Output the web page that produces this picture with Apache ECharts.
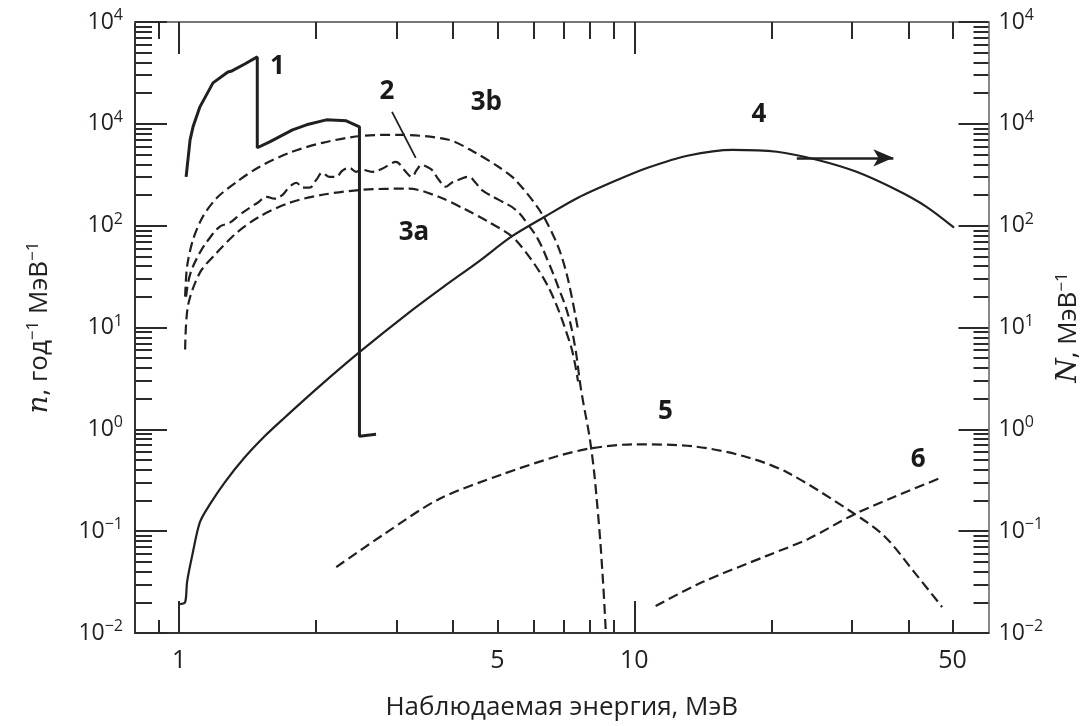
<!DOCTYPE html>
<html><head><meta charset="utf-8">
<script src="https://cdn.jsdelivr.net/npm/echarts@6/dist/echarts.min.js"></script>
<style>html,body{margin:0;padding:0;background:#fff}#c{width:1091px;height:726px}</style>
</head><body><div id="c"></div>
<script>
// ---- axis ranges and ticks ----
const X_MIN = 0.8, X_MAX = 60, Y_MIN = 0.01, Y_MAX = 10000;
const energyTicksMajor = [1, 10];
const energyTicksMinor = [0.9, 2, 3, 4, 5, 6, 7, 8, 9, 20, 30, 40, 50];
const energyTickLabels = [1, 5, 10, 50];
const yTickValues = [0.01, 0.1, 1, 10, 100, 1000, 10000];
const yTickExponents = ['−2', '−1', '0', '1', '2', '4', '4'];

// ---- curves: [energy MeV, value] ----
const curve1 = [[1.036,302],[1.057,697],[1.073,935],[1.111,1468],[1.187,2523],[1.280,3234],[1.306,3308],[1.394,3873],[1.485,4539],[1.485,582],[1.581,666],[1.775,873],[1.905,978],[2.106,1094],[2.329,1070],[2.49,935],[2.49,0.854],[2.708,0.893]];
const curve2 = [[1.036,20.1],[1.057,33.1],[1.111,54.4],[1.169,76.3],[1.229,97.8],[1.293,107],[1.359,128],[1.429,150],[1.488,168],[1.557,192],[1.621,184],[1.688,201],[1.748,241],[1.811,264],[1.866,236],[1.933,236],[2.002,282],[2.064,331],[2.138,302],[2.214,302],[2.283,346],[2.364,370],[2.449,338],[2.524,354],[2.655,338],[2.792,362],[2.892,396],[2.995,424],[3.119,354],[3.246,302],[3.329,354],[3.413,396],[3.500,379],[3.590,354],[3.719,282],[3.852,241],[3.971,264],[4.113,282],[4.325,302],[4.481,264],[4.618,225],[5.029,180],[5.479,144],[5.848,102],[6.150,72.9],[6.468,44.4],[6.802,25.2],[7.152,13.4],[7.409,6.51],[7.637,2.47],[8.030,0.681],[8.318,0.1536],[8.530,0.0338],[8.660,0.0100]];
const curve3a = [[1.031,6.09],[1.046,16.4],[1.111,34.6],[1.211,54.4],[1.339,85.4],[1.503,123],[1.748,168],[2.064,201],[2.524,225],[3.198,231],[3.719,192],[4.260,144],[4.783,109],[5.479,72.9],[6.468,25.2],[7.261,6.51],[7.522,2.96]];
const curve3b = [[1.031,20.1],[1.041,39.6],[1.073,72.9],[1.128,123],[1.211,188],[1.339,270],[1.503,379],[1.748,520],[2.064,651],[2.524,763],[3.041,780],[3.911,697],[4.436,532],[5.029,379],[5.479,282],[6.244,134],[6.802,62.3],[7.152,29.6],[7.522,9.56]];
const curve4 = [[1.005,0.0192],[1.031,0.0201],[1.041,0.0316],[1.068,0.0569],[1.111,0.1225],[1.169,0.184],[1.260,0.302],[1.394,0.531],[1.541,0.854],[1.688,1.25],[2.033,2.64],[2.486,5.69],[3.198,14.0],[3.814,25.2],[4.549,44.4],[5.370,78.0],[6.371,123],[7.522,188],[9.199,282],[10.70,370],[13.08,486],[16.47,556],[20.58,532],[25.16,444],[30.77,338],[37.64,225],[43.77,154],[50.40,95.6]];
const curve5 = [[2.214,0.0444],[2.820,0.0935],[3.719,0.206],[5.131,0.362],[6.767,0.544],[8.030,0.651],[9.97,0.713],[13.48,0.681],[17.43,0.544],[21.64,0.379],[29.85,0.157],[35.44,0.0893],[41.21,0.0396],[47.45,0.0180]];
const curve6 = [[11.14,0.0184],[14.11,0.0316],[19.47,0.0569],[24.05,0.0835],[30.46,0.1468],[37.08,0.2154],[47.45,0.338]];

// ---- annotations ----
const annotations = [
  {text:'1', E:1.645, n:3622}, {text:'2', E:2.862, n:2061}, {text:'3b', E:4.732, n:1607},
  {text:'4', E:18.79, n:1225}, {text:'3a', E:3.28, n:85.3}, {text:'5', E:11.71, n:1.5}, {text:'6', E:42.05, n:0.508}
];
const pointer2 = [[2.936,1311],[3.31,464]];
const arrow4 = [[22.75,464],[37.08,464]];

// ---- build ----
const L = Math.log10;
const toLog = arr => arr.map(p => [L(p[0]), L(p[1])]);
const ink = '#231f20';
const font = 'Open Sans';
const minorY = [];
for (let d = -2; d < 4; d++) for (let k = 2; k <= 9; k++) minorY.push(L(k * Math.pow(10, d)));
const yRich = {
  b: {fontSize: 23, fontFamily: font, color: ink},
  e: {fontSize: 16, fontFamily: font, color: ink, padding: [0, 0, 13, 0]}
};
function yLab(v) {
  const i = yTickValues.findIndex(t => Math.abs(L(t) - v) < 1e-6);
  return '{b|10}{e|' + yTickExponents[i] + '}';
}
const xBase = {type: 'value', min: L(X_MIN), max: L(X_MAX), splitLine: {show: false}, axisLabel: {show: false}};
const yBase = {type: 'value', min: L(Y_MIN), max: L(Y_MAX), splitLine: {show: false}, axisLabel: {show: false}};
const tickStyle = {color: '#2a2a2a', width: 2};
const nameRich = {
  i: {fontSize: 28, fontFamily: 'DejaVu Serif', fontStyle: 'italic', color: ink},
  s: {fontSize: 17, fontFamily: font, color: ink, padding: [0, 0, 13, 0]}
};

const xAxis = [
  Object.assign({}, xBase, {
    position: 'bottom',
    axisLine: {show: true, onZero: false, lineStyle: {color: '#333', width: 2}},
    axisTick: {show: true, inside: true, length: 32, lineStyle: tickStyle, customValues: energyTicksMajor.map(L)},
    axisLabel: {show: true, customValues: energyTickLabels.map(L), formatter: v => String(Math.round(Math.pow(10, v))),
      fontSize: 25, color: ink, fontFamily: font, margin: 15},
    name: 'Наблюдаемая энергия, МэВ', nameLocation: 'middle', nameGap: 62,
    nameTextStyle: {fontSize: 26, color: ink, fontFamily: font}
  }),
  Object.assign({}, xBase, {position: 'bottom', axisLine: {show: false, onZero: false},
    axisTick: {show: true, inside: true, length: 13, lineStyle: tickStyle, customValues: energyTicksMinor.map(L)}}),
  Object.assign({}, xBase, {position: 'top', axisLine: {show: true, onZero: false, lineStyle: {color: '#777', width: 2}},
    axisTick: {show: true, inside: true, length: 32, lineStyle: tickStyle, customValues: energyTicksMajor.map(L)}}),
  Object.assign({}, xBase, {position: 'top', axisLine: {show: false, onZero: false},
    axisTick: {show: true, inside: true, length: 17, lineStyle: tickStyle, customValues: energyTicksMinor.map(L)}})
];
const yAxis = [
  Object.assign({}, yBase, {
    position: 'left',
    axisLine: {show: true, onZero: false, lineStyle: {color: '#333', width: 2}},
    axisTick: {show: true, inside: true, length: 32, lineStyle: tickStyle, customValues: yTickValues.map(L)},
    axisLabel: {show: true, customValues: yTickValues.map(L), formatter: yLab, rich: yRich, margin: 12},
    name: '{i|n}, год{s|−1} МэВ{s|−1}', nameLocation: 'middle', nameGap: 80, nameRotate: 90,
    nameTextStyle: {fontSize: 26, color: ink, fontFamily: font, rich: nameRich}
  }),
  Object.assign({}, yBase, {position: 'left', axisLine: {show: false, onZero: false},
    axisTick: {show: true, inside: true, length: 17, lineStyle: tickStyle, customValues: minorY}}),
  Object.assign({}, yBase, {
    position: 'right',
    axisLine: {show: true, onZero: false, lineStyle: {color: '#888', width: 2}},
    axisTick: {show: true, inside: true, length: 30, lineStyle: tickStyle, customValues: yTickValues.map(L)},
    axisLabel: {show: true, customValues: yTickValues.map(L), formatter: yLab, rich: yRich, margin: 10},
    name: '{i|N}, МэВ{s|−1}', nameLocation: 'middle', nameGap: 60, nameRotate: 90,
    nameTextStyle: {fontSize: 26, color: ink, fontFamily: font, rich: nameRich}
  }),
  Object.assign({}, yBase, {position: 'right', axisLine: {show: false, onZero: false},
    axisTick: {show: true, inside: true, length: 15, lineStyle: tickStyle, customValues: minorY}})
];

const dash = [10, 5];
function lineSeries(name, data, width, type, smooth) {
  return {name, type: 'line', data: toLog(data), showSymbol: false, symbol: 'none', smooth: smooth,
    xAxisIndex: 0, yAxisIndex: 0, silent: true,
    lineStyle: {color: ink, width: width, type: type}};
}
const series = [
  lineSeries('1', curve1, 3, 'solid', false),
  lineSeries('2', curve2, 2.2, dash, 0.4),
  lineSeries('3a', curve3a, 2.2, dash, 0.3),
  lineSeries('3b', curve3b, 2.2, dash, 0.3),
  Object.assign(lineSeries('4', curve4, 2.2, 'solid', 0.3), {
    markLine: {silent: true, symbol: ['none', 'arrow'], symbolSize: [13, 20], label: {show: false},
      lineStyle: {color: ink, width: 2.5, type: 'solid'},
      data: [[{coord: [L(arrow4[0][0]), L(arrow4[0][1])]}, {coord: [L(arrow4[1][0]), L(arrow4[1][1])]}]]}
  }),
  lineSeries('5', curve5, 2.2, dash, 0.3),
  lineSeries('6', curve6, 2.2, dash, 0.3),
  lineSeries('pointer', pointer2, 1.8, 'solid', false),
  {type: 'custom', xAxisIndex: 0, yAxisIndex: 0, silent: true,
    data: annotations.map(a => [L(a.E), L(a.n)]),
    renderItem: function (params, api) {
      const p = api.coord([api.value(0), api.value(1)]);
      return {type: 'text', x: p[0], y: p[1], style: {
        text: annotations[params.dataIndex].text, fill: '#1a1a1a',
        font: 'bold 26px "Open Sans"', align: 'center', verticalAlign: 'middle'}};
    }}
];

const chart = echarts.init(document.getElementById('c'), null, {renderer: 'canvas'});
chart.setOption({
  animation: false,
  backgroundColor: '#fff',
  textStyle: {fontFamily: font, color: ink},
  grid: {left: 135, right: 99, top: 22, bottom: 92, containLabel: false},
  xAxis, yAxis, series
});
</script></body></html>
